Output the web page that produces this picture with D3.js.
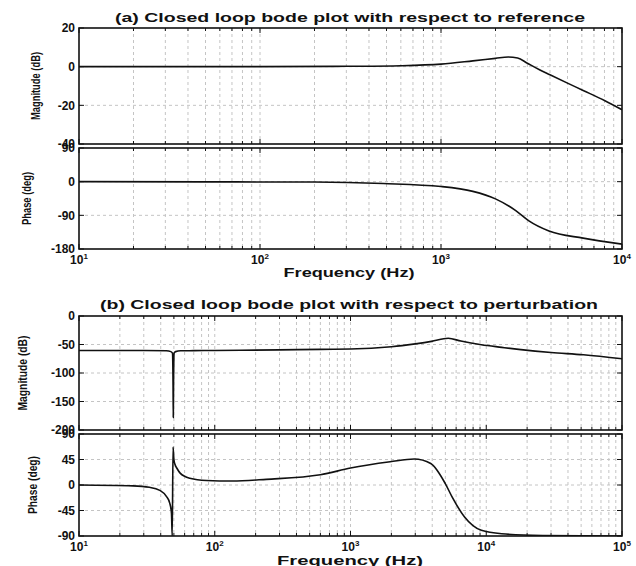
<!DOCTYPE html>
<html>
<head>
<meta charset="utf-8">
<script src="https://cdn.jsdelivr.net/npm/d3@7"></script>
<style>
  body { margin: 0; background: #fff; }
  text { font-family: "Liberation Sans", Arial, sans-serif; font-weight: bold; fill: #111; }
</style>
</head>
<body>
<div id="chart"></div>
<script>
// (a) closed loop wrt reference - magnitude
const freqMagA = [10, 100, 300, 600, 1000, 1500, 2000, 2350, 2650, 3000, 3500, 4000, 5000, 6100, 8000, 10000];
const magA     = [0, 0, 0.2, 0.5, 1.3, 3.0, 4.3, 5.0, 4.5, 1.8, -1.6, -4.2, -8.5, -12.3, -17.5, -22.3];

// (a) phase
const freqPhaseA = [10, 50, 200, 480, 1000, 1500, 2000, 2600, 3060, 3950, 6100, 10000];
const phaseA     = [0, -0.5, -1, -5, -13, -26, -46, -78, -105, -132, -151, -167];

// (b) closed loop wrt perturbation - magnitude
const freqMagB = [10, 30, 44, 47.5, 48.8, 49.3, 49.5, 49.7, 50.2, 51.5, 56, 70, 100, 300, 600, 1000, 2000, 2400, 3100, 3950, 5250, 6500, 9200, 13000, 18000, 30000, 52000, 100000];
const magB     = [-60.5, -60.5, -61, -62.5, -65, -121, -178, -121, -65, -62.5, -61, -60.8, -60.5, -59.5, -58.5, -58, -54, -52, -48.5, -44.5, -39, -44, -50.5, -55, -59, -64, -68, -75];

// (b) phase
const freqPhaseB = [10, 25, 33, 39.4, 44, 46.6, 48.0, 48.6, 49.3, 50.0, 51, 52.5, 55.6, 65.5, 87, 135, 240, 600, 1000, 1960, 2950, 3900, 4980, 5600, 6900, 9200, 13000, 26000, 100000];
const phaseB     = [0, -1.5, -4, -9.5, -20, -32, -50, -90, 67, 45, 36, 30, 21, 12, 8, 7, 10, 18, 30, 41, 46, 38, 3, -21, -56, -80, -86, -89, -90];

// tick labels
const magTicksA = [20, 0, -20, -40];
const phaseTicksA = [90, 0, -90, -180];
const magTicksB = [0, -50, -100, -150, -200];
const phaseTicksB = [90, 45, 0, -45, -90];

const W = 636, H = 566;
const left = 79, right = 622;

const svg = d3.select("#chart")
  .append("svg")
  .attr("width", W)
  .attr("height", H);

let clipId = 0;

function panel(o) {
  const x = d3.scaleLog().domain(o.xDomain).range([left, right]);
  const y = d3.scaleLinear().domain([o.yTicks[o.yTicks.length - 1], o.yTicks[0]]).range([o.bottom, o.top]);
  const g = svg.append("g");

  // log grid values
  const xs = [];
  const d0 = Math.log10(o.xDomain[0]), d1 = Math.log10(o.xDomain[1]);
  for (let d = d0; d < d1; d++) {
    for (let k = 1; k <= 9; k++) {
      xs.push({ v: k * Math.pow(10, d), major: k === 1 });
    }
  }
  xs.push({ v: o.xDomain[1], major: true });

  // grid
  g.append("g").selectAll("line")
    .data(xs.filter(d => d.v > o.xDomain[0] && d.v < o.xDomain[1]))
    .join("line")
    .attr("x1", d => x(d.v)).attr("x2", d => x(d.v))
    .attr("y1", o.top).attr("y2", o.bottom)
    .attr("stroke", "#c4c4c4").attr("stroke-width", 1)
    .attr("stroke-dasharray", "3,3");

  g.append("g").selectAll("line")
    .data(o.yTicks.slice(1, -1))
    .join("line")
    .attr("x1", left).attr("x2", right)
    .attr("y1", d => y(d)).attr("y2", d => y(d))
    .attr("stroke", "#c4c4c4").attr("stroke-width", 1)
    .attr("stroke-dasharray", "3,3");

  // ticks, inward on all sides
  const tk = g.append("g").attr("stroke", "#111").attr("stroke-width", 1);
  xs.forEach(d => {
    const len = d.major ? 5 : 3;
    tk.append("line").attr("x1", x(d.v)).attr("x2", x(d.v)).attr("y1", o.top).attr("y2", o.top + len);
    tk.append("line").attr("x1", x(d.v)).attr("x2", x(d.v)).attr("y1", o.bottom).attr("y2", o.bottom - len);
  });
  o.yTicks.forEach(v => {
    tk.append("line").attr("x1", left).attr("x2", left + 5).attr("y1", y(v)).attr("y2", y(v));
    tk.append("line").attr("x1", right).attr("x2", right - 5).attr("y1", y(v)).attr("y2", y(v));
  });

  // curve
  const id = "clip" + (clipId++);
  svg.append("clipPath").attr("id", id)
    .append("rect").attr("x", left).attr("y", o.top).attr("width", right - left).attr("height", o.bottom - o.top);

  const pts = o.freq.map((f, i) => [f, o.vals[i]]);
  g.append("path")
    .datum(pts)
    .attr("clip-path", `url(#${id})`)
    .attr("fill", "none")
    .attr("stroke", "#111")
    .attr("stroke-width", 1.6)
    .attr("d", d3.line()
      .curve(d3.curveMonotoneX)
      .x(d => x(d[0]))
      .y(d => y(d[1])));

  // frame
  g.append("rect")
    .attr("x", left).attr("y", o.top)
    .attr("width", right - left).attr("height", o.bottom - o.top)
    .attr("fill", "none").attr("stroke", "#111").attr("stroke-width", 1.6);

  // y tick labels
  g.append("g").selectAll("text")
    .data(o.yTicks)
    .join("text")
    .attr("x", left - 4)
    .attr("y", d => y(d))
    .attr("dy", "0.36em")
    .attr("text-anchor", "end")
    .attr("font-size", 12)
    .text(d => d);

  // y label
  g.append("text")
    .attr("transform", `translate(${o.labelX},${(o.top + o.bottom) / 2}) rotate(-90)`)
    .attr("text-anchor", "middle")
    .attr("font-size", 13)
    .attr("textLength", o.labelLen)
    .attr("lengthAdjust", "spacingAndGlyphs")
    .text(o.label);

  // x tick labels
  if (o.xLabelY) {
    const dec = xs.filter(d => d.major);
    const t = g.append("g").selectAll("text")
      .data(dec)
      .join("text")
      .attr("x", d => x(d.v))
      .attr("y", o.xLabelY)
      .attr("text-anchor", "middle")
      .attr("font-size", 12);
    t.append("tspan").text("10");
    t.append("tspan")
      .attr("font-size", 8)
      .attr("dy", -5)
      .text(d => Math.round(Math.log10(d.v)));
  }
}

function caption(txt, cx, yy, len) {
  svg.append("text")
    .attr("x", cx).attr("y", yy)
    .attr("text-anchor", "middle")
    .attr("font-size", 12.5)
    .attr("textLength", len)
    .attr("lengthAdjust", "spacingAndGlyphs")
    .text(txt);
}

// (a)
caption("(a) Closed loop bode plot with respect to reference", 350, 22, 470);
panel({ top: 28, bottom: 144, xDomain: [10, 10000], yTicks: magTicksA,
  freq: freqMagA, vals: magA, label: "Magnitude (dB)", labelX: 40, labelLen: 68 });
panel({ top: 148, bottom: 249, xDomain: [10, 10000], yTicks: phaseTicksA,
  freq: freqPhaseA, vals: phaseA, label: "Phase (deg)", labelX: 31, labelLen: 53, xLabelY: 264 });
caption("Frequency  (Hz)", 349, 277, 131);

// (b)
caption("(b) Closed loop bode plot with respect to perturbation", 349, 309, 498);
panel({ top: 316, bottom: 430, xDomain: [10, 100000], yTicks: magTicksB,
  freq: freqMagB, vals: magB, label: "Magnitude (dB)", labelX: 27, labelLen: 75 });
panel({ top: 434, bottom: 536, xDomain: [10, 100000], yTicks: phaseTicksB,
  freq: freqPhaseB, vals: phaseB, label: "Phase (deg)", labelX: 37, labelLen: 58, xLabelY: 551 });
caption("Frequency  (Hz)", 350, 565, 146);
</script>
</body>
</html>
